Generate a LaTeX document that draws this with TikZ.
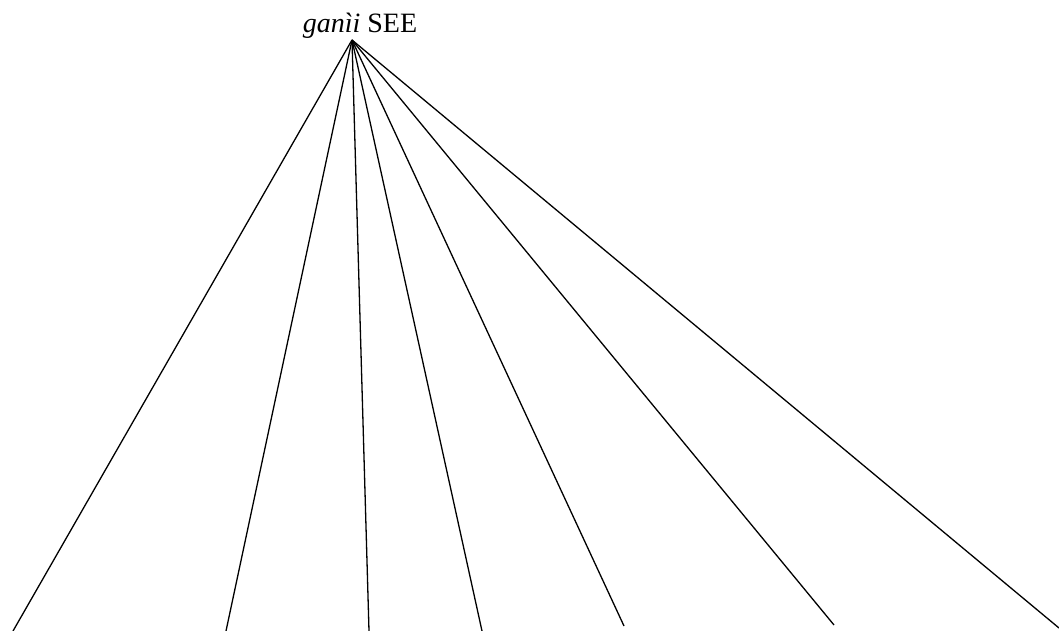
\documentclass[tikz,border=0pt]{standalone}
\usepackage{fontspec}
\setmainfont{Liberation Serif}
\begin{document}
\begin{tikzpicture}[x=1pt,y=-1pt,line width=1.3pt,
  lbl/.style={inner sep=0pt,font=\fontsize{28}{32}\selectfont}]
\useasboundingbox (0,0) rectangle (1059,631);
\node[lbl,anchor=base] (top) at (360,33) {\textit{ganìi} SEE};
\coordinate (r) at (352,40);
\coordinate (b1) at (13,631);
\coordinate (b2) at (226,631);
\coordinate (b3) at (369,631);
\coordinate (b4) at (482,631);
\coordinate (b5) at (624,626);
\coordinate (b6) at (834,625);
\coordinate (b7) at (1059,628);
\foreach \i in {1,...,7} \draw (r) -- (b\i);
\end{tikzpicture}
\end{document}
